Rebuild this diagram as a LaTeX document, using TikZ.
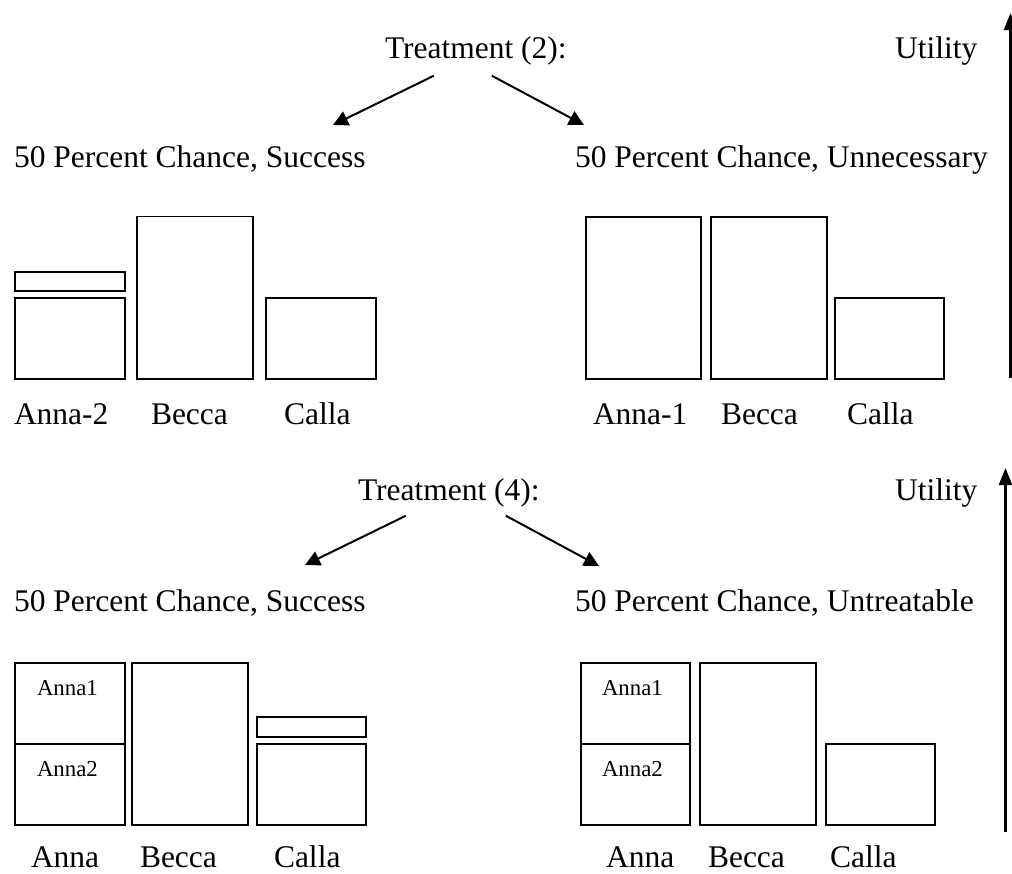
\documentclass[tikz,border=0pt]{standalone}
\usepackage{fontspec}
\setmainfont{Liberation Serif}
\usetikzlibrary{arrows.meta}
\tikzstyle{word}=[inner sep=0pt,%
                  anchor=base west,%
                  font=\fontsize{31.5}{38}\selectfont]
\tikzstyle{smallword}=[inner sep=0pt, anchor=base west, font=\fontsize{22.8}{27}\selectfont]
\tikzstyle{bar}=[draw, rectangle, inner sep=0pt, anchor=north west, line width=1.8pt]
\tikzstyle{axis}=[line width=2.5pt, >={Triangle[length=17pt,width=13pt]}]

\begin{document}
\begin{tikzpicture}[x=1pt, y=-1pt, line width=2pt, >={Triangle[length=15pt,width=15pt]}]
            \useasboundingbox (0,0) rectangle (1012,873);
            % treatment (2)
            \node[word] (t2) at (384,58) {Treatment (2):};
            \node[word] (u2) at (894,58) {Utility};
            \node[word] (s2) at (13,167) {50 Percent Chance, Success};
            \node[word] (n2) at (574,167) {50 Percent Chance, Unnecessary};
            \coordinate (s2tip) at (333,125);
            \coordinate (n2tip) at (584,125);
            \draw [->] ([xshift=-42pt,yshift=-10pt]t2.south) -- (s2tip);
            \draw [->] ([xshift=16pt,yshift=-10pt]t2.south) -- (n2tip);
            \node[bar, minimum width=110pt, minimum height=19pt]    (a2x) at (14,271) {};
            \node[bar, minimum width=110pt, minimum height=81pt]    (a2)  at (14,297) {};
            \node[bar, minimum width=116pt, minimum height=162.5pt] (b2)  at (136,215.5) {};
            \node[bar, minimum width=109.5pt, minimum height=81pt]  (c2)  at (265.3,297) {};
            \node[bar, minimum width=115pt, minimum height=162.3pt] (a1)  at (585,215.7) {};
            \node[bar, minimum width=115.7pt, minimum height=162.3pt] (b1) at (710,215.7) {};
            \node[bar, minimum width=109pt, minimum height=81pt]    (c1)  at (834.3,297) {};
            \node[word] (a2name) at (13,424) {Anna-2};
            \node[word] (b2name) at (150,424) {Becca};
            \node[word] (c2name) at (283,424) {Calla};
            \node[word] (a1name) at (592,424) {Anna-1};
            \node[word] (b1name) at (720,424) {Becca};
            \node[word] (c1name) at (846,424) {Calla};
            \coordinate (ax2) at (1010.5,378);
            \coordinate (ay2) at (1010.5,13);
            \draw [axis,->] (ax2) -- (ay2);
            % treatment (4)
            \node[word] (t4) at (357,500) {Treatment (4):};
            \node[word] (u4) at (894,500) {Utility};
            \node[word] (s4) at (13,611) {50 Percent Chance, Success};
            \node[word] (n4) at (574,611) {50 Percent Chance, Untreatable};
            \coordinate (s4tip) at (305,565);
            \coordinate (n4tip) at (599,566);
            \draw [->] ([xshift=-43pt,yshift=-8pt]t4.south) -- (s4tip);
            \draw [->] ([xshift=57pt,yshift=-8pt]t4.south) -- (n4tip);
            \node[bar, minimum width=109.4pt, minimum height=81pt]  (a4a) at (14.3,661.7) {};
            \node[bar, minimum width=109.4pt, minimum height=81pt]  (a4b) at (14.3,742.7) {};
            \node[bar, minimum width=115.7pt, minimum height=162pt] (b4)  at (131,661.7) {};
            \node[bar, minimum width=109pt, minimum height=19.4pt]  (c4x) at (256,716.3) {};
            \node[bar, minimum width=109pt, minimum height=81pt]    (c4)  at (256,742.7) {};
            \node[bar, minimum width=109pt, minimum height=81pt]    (a3a) at (580,661.7) {};
            \node[bar, minimum width=109pt, minimum height=81pt]    (a3b) at (580,742.7) {};
            \node[bar, minimum width=116pt, minimum height=162pt]   (b3)  at (699.3,661.7) {};
            \node[bar, minimum width=108.7pt, minimum height=81pt]  (c3)  at (825.3,742.7) {};
            \node[smallword] (a4one) at (36,695) {Anna1};
            \node[smallword] (a4two) at (36,776) {Anna2};
            \node[smallword] (a3one) at (601,695) {Anna1};
            \node[smallword] (a3two) at (601,776) {Anna2};
            \node[word] (a4name) at (30,867) {Anna};
            \node[word] (b4name) at (139,867) {Becca};
            \node[word] (c4name) at (273,867) {Calla};
            \node[word] (a3name) at (605,867) {Anna};
            \node[word] (b3name) at (707,867) {Becca};
            \node[word] (c3name) at (829,867) {Calla};
            \coordinate (ax4) at (1005.5,832);
            \coordinate (ay4) at (1005.5,468);
            \draw [axis,->] (ax4) -- (ay4);
\end{tikzpicture}
\end{document}
